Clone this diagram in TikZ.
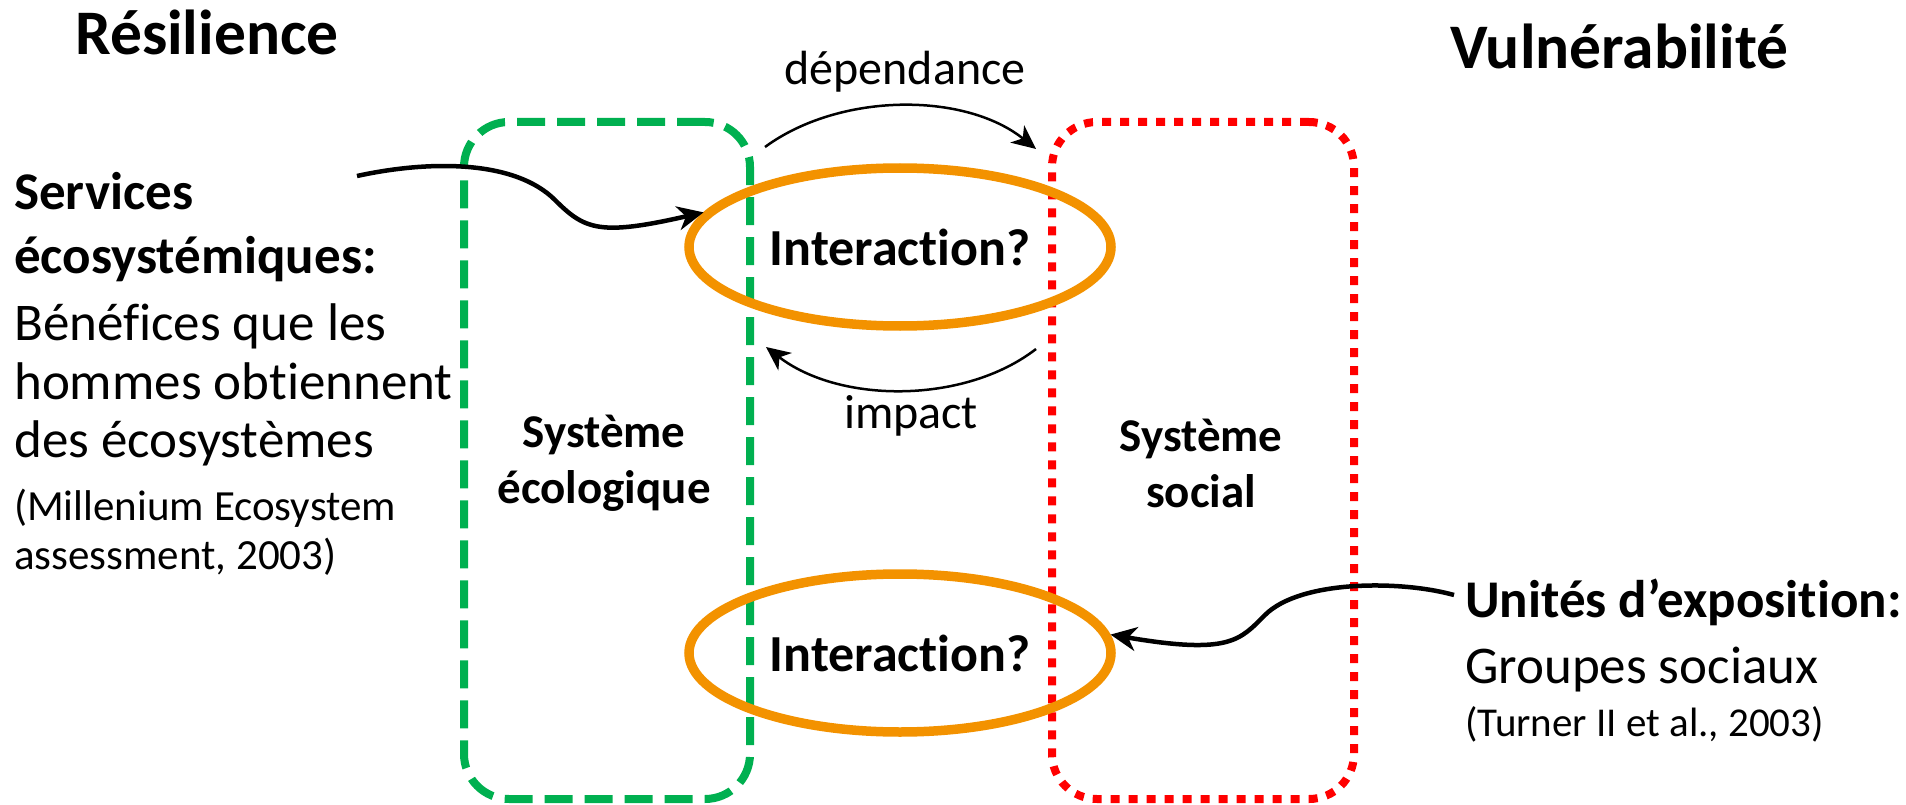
\documentclass[tikz,border=0pt]{standalone}
\usepackage{fontspec}
\setmainfont{Carlito}[Ligatures={NoCommon,NoContextual}, Contextuals={NoAlternate}]
\usetikzlibrary{shapes.geometric,arrows.meta}
\definecolor{ecogreen}{RGB}{0,176,80}
\definecolor{socred}{RGB}{255,0,0}
\definecolor{interorange}{RGB}{243,146,0}
\begin{document}
\begin{tikzpicture}[x=1pt,y=-1pt,
  heading/.style={font=\fontsize{63.5}{72}\selectfont\bfseries, anchor=base west, inner sep=0},
  boldline/.style={font=\fontsize{53}{60}\selectfont\bfseries, anchor=base west, inner sep=0},
  plainline/.style={font=\fontsize{53}{60}\selectfont, anchor=base west, inner sep=0},
  smallline/.style={font=\fontsize{43}{50}\selectfont, anchor=base west, inner sep=0},
  smallerline/.style={font=\fontsize{41}{50}\selectfont, anchor=base west, inner sep=0},
  arrowlabel/.style={font=\fontsize{48}{56}\selectfont, anchor=base, inner sep=0},
  syslabel/.style={font=\fontsize{47}{56}\selectfont\bfseries, align=center, inner sep=0},
  ecobox/.style={draw=ecogreen, line width=8, dash pattern=on 28 off 12, rounded corners=45,
    minimum width=286, minimum height=677, inner sep=0},
  socbox/.style={draw=socred, line width=8, dash pattern=on 9 off 9, rounded corners=45,
    minimum width=302, minimum height=677, inner sep=0},
  inter/.style={ellipse, draw=interorange, line width=9.5, minimum width=422, minimum height=158,
    inner sep=0, font=\fontsize{52}{60}\selectfont\bfseries},
  thinarrow/.style={line width=2.5, -{Stealth[length=24, width=22, inset=7]}},
  thickarrow/.style={line width=4.5, -{Stealth[length=26, width=24, inset=8]}}
]
\useasboundingbox (0,0) rectangle (1906,805);

% column titles
\node[heading] (res) at (75,55) {Résilience};
\node[heading] (vul) at (1450,69) {Vulnérabilité};

% the two systems
\node[ecobox] (eco) at (607,460.5) {};
\node[socbox] (soc) at (1203,460.5) {};
\node[syslabel] (ecolab) at (604,463) {Système\\écologique};
\node[syslabel] (soclab) at (1201,463) {Système\\social};

% interaction zones
\node[inter] (ia) at (900,247) {Interaction?};
\node[inter] (ib) at (900,653) {Interaction?};

% dependence and impact loops
\coordinate (depS) at (765,147);
\coordinate (depE) at (1036,149);
\coordinate (impS) at (1036,349);
\coordinate (impE) at (766,347);
\draw[thinarrow] (depS) .. controls (840,92) and (965,92) .. (depE);
\draw[thinarrow] (impS) .. controls (965,404) and (840,404) .. (impE);
\node[arrowlabel] (deplab) at (905,85) {dépendance};
\node[arrowlabel] (implab) at (911,428) {impact};

% ecosystem services
\node[boldline] (sv1) at (14,210) {Services};
\node[boldline] (sv2) at (14,273) {écosystémiques:};
\node[plainline] (sv3) at (14,340) {Bénéfices que les};
\node[plainline] (sv4) at (14,399) {hommes obtiennent};
\node[plainline] (sv5) at (14,457) {des écosystèmes};
\node[smallline] (sv6) at (14,520) {(Millenium Ecosystem};
\node[smallline] (sv7) at (14,569) {assessment, 2003)};
\coordinate (svS) at (357,176);
\draw[thickarrow] (svS) .. controls (430,160) and (515,160) .. (555,200)
  .. controls (585,230) and (600,236) .. (ia.170);

% exposure units
\node[boldline] (ex1) at (1465,617) {Unités d’exposition:};
\node[plainline] (ex2) at (1465,683) {Groupes sociaux};
\node[smallerline] (ex3) at (1465,736) {(Turner II et al., 2003)};
\coordinate (exS) at (1454,595);
\draw[thickarrow] (exS) .. controls (1400,580) and (1300,580) .. (1265,615)
  .. controls (1240,640) and (1230,655) .. (ib.5);
\end{tikzpicture}
\end{document}
